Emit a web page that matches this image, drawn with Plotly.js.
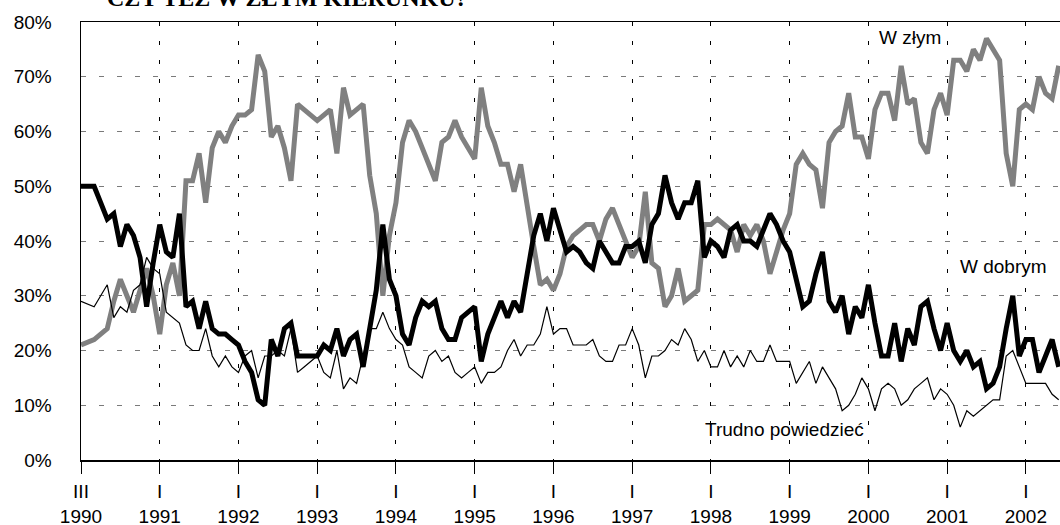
<!DOCTYPE html>
<html><head><meta charset="utf-8">
<script src="https://cdn.plot.ly/plotly-3.0.1.min.js"></script>
<style>html,body{margin:0;padding:0;overflow:hidden;background:#fff}#chart{width:1060px;height:525px}</style>
</head><body><div id="chart"></div>
<script>
// Monthly survey readings, starting March 1990 (one value per survey, 12 per tick)
const tickLabels = ["III<br>1990","I<br>1991","I<br>1992","I<br>1993","I<br>1994","I<br>1995","I<br>1996","I<br>1997","I<br>1998","I<br>1999","I<br>2000","I<br>2001","I<br>2002"];
const pointsPerTick = 12;

const seriesNames = ["W dobrym", "W złym", "Trudno powiedzieć"];

const wDobrym = [
50,50,50,47,44,45,39,43,41,37,
28,36,43,38,37,45,28,29,24,29,
24,23,23,22,21,18,16,11,10,22,
19,24,25,19,19,19,19,21,20,24,
19,22,23,17,24,31,43,33,30,23,
21,26,29,28,29,24,22,22,26,27,
28,18,23,26,29,26,29,27,34,41,
45,40,46,42,38,39,38,36,35,40,
38,36,36,39,39,40,36,43,45,52,
47,44,47,47,51,37,40,39,37,42,
43,40,40,39,42,45,43,40,38,33,
28,29,34,38,29,27,30,23,28,26,
32,25,19,19,25,18,24,21,28,29,
24,20,25,20,18,20,17,18,13,14,
17,24,30,19,22,22,16,19,22,17];

const wZlym = [
21,21.5,22,23,24,29,33,30,27,31,
35,30,23,32,36,30,51,51,56,47,
57,60,58,61,63,63,64,74,71,59,
61,57,51,65,64,63,62,63,64,56,
68,63,64,65,52,45,30,41,47,58,
62,60,57,54,51,58,59,62,59,57,
55,68,61,58,54,54,49,54,46,39,
32,33,31,34,39,41,42,43,43,40,
44,46,43,40,37,39,49,36,35,28,
30,35,29,30,31,43,43,44,43,42,
38,43,41,43,40,34,38,42,45,54,
56,54,53,46,58,60,61,67,59,59,
55,64,67,67,62,72,65,66,58,56,
64,67,63,73,73,71,75,73,77,75,
73,56,50,64,65,64,70,67,66,72];

const trudno = [
29,28.5,28,30,32,26,28,27,31,32,
37,35,34,27,26,25,21,20,20,24,
19,17,19,17,16,19,20,15,19,19,
20,19,24,16,17,18,19,16,15,20,
13,15,14,19,24,24,27,24,22,21,
17,16,15,19,20,18,19,16,15,16,
17,14,16,16,17,20,22,19,21,21,
23,28,23,24,24,21,21,21,22,19,
18,18,21,21,24,21,15,19,19,20,
22,21,24,22,18,20,17,17,20,17,
19,17,20,18,18,21,18,18,18,14,
16,18,14,17,15,13,9,10,12,15,
13,9,13,14,13,10,11,13,14,15,
11,13,12,10,6,9,8,9,10,11,
11,19,20,17,14,14,14,14,12,11];

const titleText = "CZY TEŻ W ZŁYM KIERUNKU?";

const idx = wDobrym.map((_, i) => i);
const tickVals = tickLabels.map((_, i) => i * pointsPerTick);

const FONT = "Arial, 'Liberation Sans', sans-serif";

const traces = [
  {x: idx, y: wZlym, name: seriesNames[1], mode: "lines", line: {color: "#808080", width: 5}},
  {x: idx, y: trudno, name: seriesNames[2], mode: "lines", line: {color: "#000000", width: 1.2}},
  {x: idx, y: wDobrym, name: seriesNames[0], mode: "lines", line: {color: "#000000", width: 5}}
];

const layout = {
  width: 1060, height: 525,
  margin: {l: 81, r: 0, t: 22, b: 65},
  paper_bgcolor: "#ffffff", plot_bgcolor: "#ffffff",
  showlegend: false,
  font: {family: FONT, size: 19, color: "#000"},
  xaxis: {
    range: [0, 149.2], tickvals: tickVals, ticktext: tickLabels,
    showline: true, linecolor: "#000", linewidth: 1.5, mirror: true,
    ticks: "outside", ticklen: 12, tickcolor: "#000", tickwidth: 1,
    showgrid: true, gridcolor: "#000", gridwidth: 1, griddash: "4px,15px",
    zeroline: false, tickfont: {family: FONT, size: 19, color: "#000"},
    ticklabelstandoff: 2, fixedrange: true
  },
  yaxis: {
    range: [0, 80], dtick: 10, ticksuffix: "%",
    showline: true, linecolor: "#000", linewidth: 1.5, mirror: false,
    ticks: "", showgrid: true, gridcolor: "#7a7a7a", gridwidth: 1, griddash: "5px,13px",
    zeroline: false, tickfont: {family: FONT, size: 19, color: "#000"},
    ticklabelstandoff: 24, fixedrange: true
  },
  annotations: [
    {text: titleText, xref: "paper", yref: "paper", x: 0.0245, y: 1.021, xanchor: "left", yanchor: "bottom",
     showarrow: false, font: {family: "'Times New Roman', 'Liberation Serif', serif", size: 24, color: "#000", weight: "bold"}},
    {text: seriesNames[1], x: 126.3, y: 77.1, xref: "x", yref: "y", showarrow: false, font: {family: FONT, size: 19, color: "#000"}},
    {text: seriesNames[0], x: 140.6, y: 35.4, xref: "x", yref: "y", showarrow: false, font: {family: FONT, size: 19, color: "#000"}},
    {text: seriesNames[2], x: 107.2, y: 5.5, xref: "x", yref: "y", showarrow: false, font: {family: FONT, size: 19, color: "#000"}}
  ]
};

Plotly.newPlot("chart", traces, layout, {displayModeBar: false, staticPlot: true});
</script>
</body></html>
